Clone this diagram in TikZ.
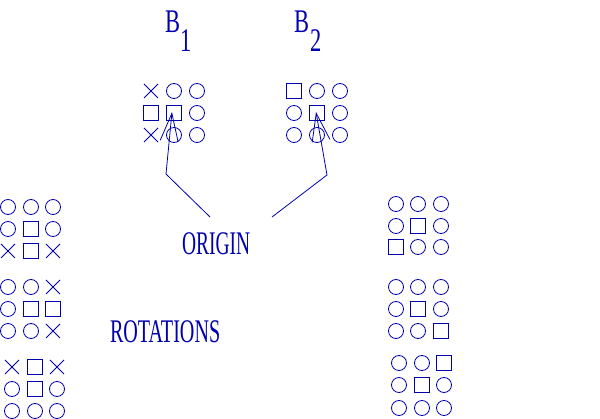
\documentclass[tikz,border=0pt]{standalone}
\usepackage{fontspec}
\setmainfont{Liberation Serif}
\usetikzlibrary{shapes.misc,arrows.meta}
\definecolor{ink}{RGB}{0,0,175}
\tikzset{
  sym/.style={draw=ink, line width=0.8pt, inner sep=0pt, outer sep=0pt},
  cO/.style={sym, circle, minimum size=15pt},
  cS/.style={sym, rectangle, minimum size=15pt},
  cX/.style={sym, cross out, minimum size=14pt},
  lbl/.style={text=ink, inner sep=0pt, outer sep=0pt, font=\fontsize{33}{36}\selectfont},
  arr/.style={draw=ink, line width=0.8pt, -{Straight Barb[length=28pt,width=18pt,line width=0.8pt]}},
}
\newcommand{\cond}[2][0.58]{\scalebox{#1}[1]{#2}}
\begin{document}
\begin{tikzpicture}[x=1pt,y=-1pt]
\useasboundingbox (0,0) rectangle (600,419);
% titles
\node[lbl, anchor=base west] (tb1) at (165,33) {\cond[0.68]{B}};
\node[lbl, anchor=base west] (tb1s) at (180,52) {\cond[0.68]{1}};
\node[lbl, anchor=base west] (tb2) at (294,33) {\cond[0.68]{B}};
\node[lbl, anchor=base west] (tb2s) at (310,52) {\cond[0.68]{2}};
\node[lbl, anchor=base west] (org) at (182,255) {\cond[0.59]{ORIGIN}};
\node[lbl, anchor=base west] (rot) at (110,342.5) {\cond[0.61]{ROTATIONS}};
% B1 grid
\node[cX] (a11) at (151,91) {}; \node[cO] (a12) at (174,91) {}; \node[cO] (a13) at (197,91) {};
\node[cS] (a21) at (151,113) {}; \node[cS] (b1c) at (174,113) {}; \node[cO] (a23) at (197,113) {};
\node[cX] (a31) at (151,135) {}; \node[cO] (a32) at (174,135) {}; \node[cO] (a33) at (197,135) {};
% B2 grid
\node[cS] (c11) at (294,91) {}; \node[cO] (c12) at (317,91) {}; \node[cO] (c13) at (340,91) {};
\node[cO] (c21) at (294,113) {}; \node[cS] (b2c) at (317,113) {}; \node[cO] (c23) at (340,113) {};
\node[cO] (c31) at (294,135) {}; \node[cO] (c32) at (317,135) {}; \node[cO] (c33) at (340,135) {};
% arrows
\coordinate (s1) at (210,217); \coordinate (k1) at (166,174); \coordinate (t1) at (172,112);
\coordinate (s2) at (272,217); \coordinate (k2) at (327,175); \coordinate (t2) at (316,112);
\draw[arr] (s1) -- (k1) -- (t1);
\draw[arr] (s2) -- (k2) -- (t2);
% left grids
\node[cO] (l111) at (8,207) {}; \node[cO] (l112) at (31,207) {}; \node[cO] (l113) at (53,207) {};
\node[cO] (l121) at (8,229) {}; \node[cS] (l122) at (31,229) {}; \node[cO] (l123) at (53,229) {};
\node[cX] (l131) at (8,251) {}; \node[cS] (l132) at (31,251) {}; \node[cX] (l133) at (53,251) {};
\node[cO] (l211) at (8,287) {}; \node[cO] (l212) at (31,287) {}; \node[cX] (l213) at (53,287) {};
\node[cO] (l221) at (8,309) {}; \node[cS] (l222) at (31,309) {}; \node[cS] (l223) at (53,309) {};
\node[cO] (l231) at (8,331) {}; \node[cO] (l232) at (31,331) {}; \node[cX] (l233) at (53,331) {};
\node[cX] (l311) at (12,367) {}; \node[cS] (l312) at (35,367) {}; \node[cX] (l313) at (57,367) {};
\node[cO] (l321) at (12,389) {}; \node[cS] (l322) at (35,389) {}; \node[cO] (l323) at (57,389) {};
\node[cO] (l331) at (12,411) {}; \node[cO] (l332) at (35,411) {}; \node[cO] (l333) at (57,411) {};
% right grids
\node[cO] (r111) at (396,204) {}; \node[cO] (r112) at (418,204) {}; \node[cO] (r113) at (441,204) {};
\node[cO] (r121) at (396,226) {}; \node[cS] (r122) at (418,226) {}; \node[cO] (r123) at (441,226) {};
\node[cS] (r131) at (396,247) {}; \node[cO] (r132) at (418,247) {}; \node[cO] (r133) at (441,247) {};
\node[cO] (r211) at (396,287) {}; \node[cO] (r212) at (418,287) {}; \node[cO] (r213) at (441,287) {};
\node[cO] (r221) at (396,309) {}; \node[cS] (r222) at (418,309) {}; \node[cO] (r223) at (441,309) {};
\node[cO] (r231) at (396,331) {}; \node[cO] (r232) at (418,331) {}; \node[cS] (r233) at (441,331) {};
\node[cO] (r311) at (399,363) {}; \node[cO] (r312) at (422,363) {}; \node[cS] (r313) at (444,363) {};
\node[cO] (r321) at (399,385) {}; \node[cS] (r322) at (422,385) {}; \node[cO] (r323) at (444,385) {};
\node[cO] (r331) at (399,408) {}; \node[cO] (r332) at (422,408) {}; \node[cO] (r333) at (444,408) {};
\end{tikzpicture}
\end{document}
